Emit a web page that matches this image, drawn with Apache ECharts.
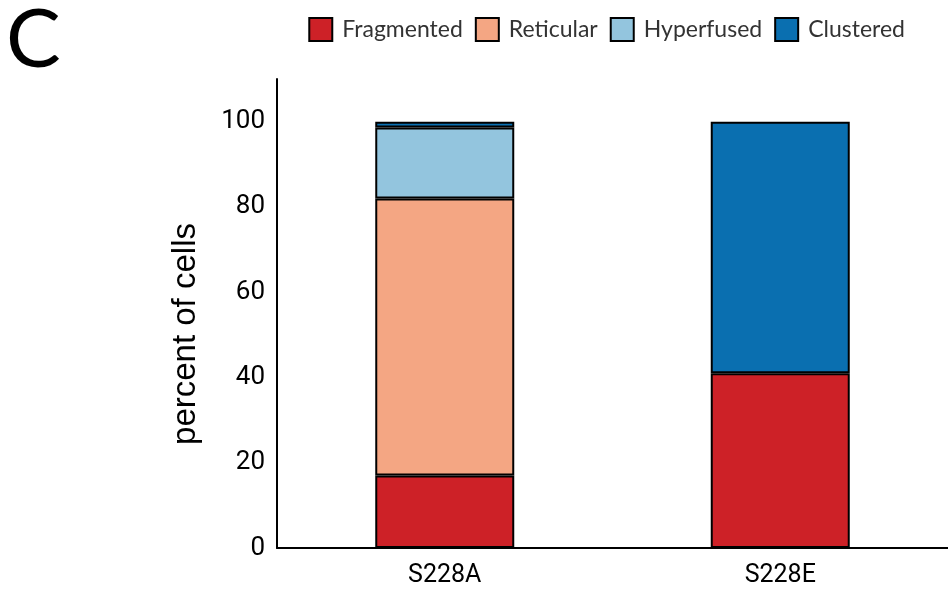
<!DOCTYPE html>
<html>
<head>
<meta charset="utf-8">
<script src="https://cdn.jsdelivr.net/npm/echarts@6/dist/echarts.min.js"></script>
<style>
  html, body { margin: 0; padding: 0; background: #fff; }
  #chart { width: 948px; height: 590px; }
</style>
</head>
<body>
<div id="chart"></div>
<script>
const categories = ['S228A', 'S228E']
const fragmented = [17, 41]
const reticular = [65, '-']
const hyperfused = [16.6, '-']
const clustered = [1.4, 59]
const yTicks = [0, 20, 40, 60, 80, 100]

const colors = {
  Fragmented: '#cd2127',
  Reticular: '#f4a683',
  Hyperfused: '#93c5de',
  Clustered: '#0a6fb0'
}

function barSeries (name, data) {
  return {
    name: name,
    type: 'bar',
    stack: 'total',
    barWidth: 139,
    itemStyle: {
      color: colors[name],
      borderColor: '#000',
      borderWidth: 2
    },
    data: data
  }
}

const chart = echarts.init(document.getElementById('chart'))
chart.setOption({
  animation: false,
  textStyle: { fontFamily: 'Roboto' },
  graphic: [
    {
      type: 'text',
      left: 6,
      top: 0,
      style: { text: 'C', font: '400 82px Lato', fill: '#000' }
    },
    {
      type: 'text',
      x: 186,
      y: 334,
      rotation: Math.PI / 2,
      style: {
        text: 'percent of cells',
        font: '33px "Liberation Sans"',
        fill: '#000',
        align: 'center',
        verticalAlign: 'middle'
      }
    }
  ],
  legend: {
    right: 38,
    top: 12,
    itemWidth: 23,
    itemHeight: 23,
    itemGap: 12,
    icon: 'rect',
    textStyle: { fontSize: 23, color: '#333', fontFamily: 'Lato', padding: [0, 0, 0, 5] },
    data: ['Fragmented', 'Reticular', 'Hyperfused', 'Clustered']
  },
  grid: {
    left: 277,
    top: 79,
    width: 672,
    bottom: 42
  },
  xAxis: {
    type: 'category',
    data: categories,
    axisLine: { lineStyle: { color: '#000', width: 2 } },
    axisTick: { show: false },
    axisLabel: { fontSize: 25, color: '#000', margin: 15 }
  },
  yAxis: {
    type: 'value',
    min: yTicks[0],
    max: 110,
    interval: 20,
    splitLine: { show: false },
    axisLine: { show: true, lineStyle: { color: '#000', width: 2 } },
    axisTick: { show: false },
    axisLabel: {
      fontSize: 26,
      color: '#000',
      margin: 12,
      showMaxLabel: false,
      formatter: v => (yTicks.indexOf(v) >= 0 ? String(v) : '')
    }
  },
  series: [
    barSeries('Fragmented', fragmented),
    barSeries('Reticular', reticular),
    barSeries('Hyperfused', hyperfused),
    barSeries('Clustered', clustered)
  ]
})
</script>
</body>
</html>
